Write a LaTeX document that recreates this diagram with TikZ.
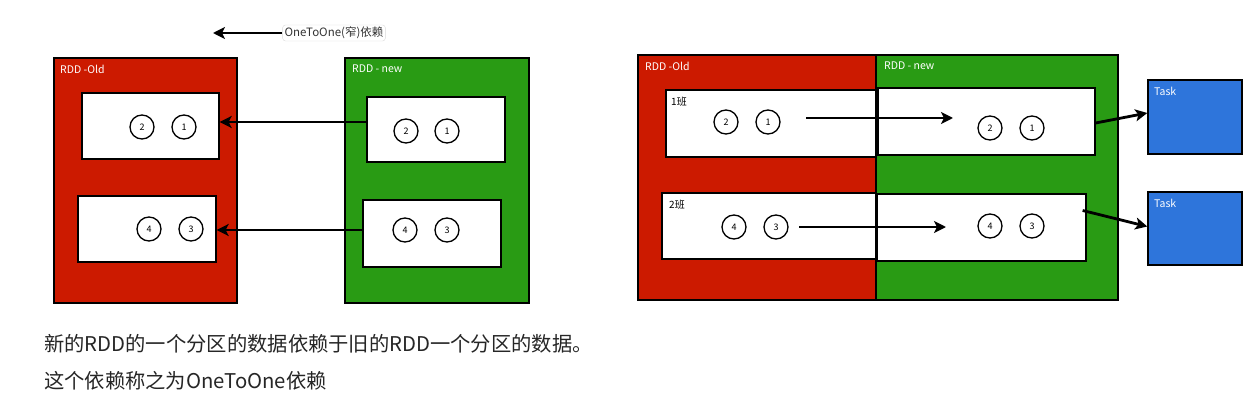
\documentclass[tikz,border=0pt]{standalone}
\usepackage{fontspec}
\setmainfont{Noto Sans CJK SC}
\usetikzlibrary{arrows.meta}

\definecolor{oldred}{RGB}{204,26,0}
\definecolor{newgreen}{RGB}{41,155,20}
\definecolor{taskblue}{RGB}{46,117,219}

\tikzset{
  rddbox/.style={draw=black, line width=1.4pt, inner sep=0pt},
  partbox/.style={draw=black, fill=white, line width=1.3pt, inner sep=0pt},
  numnode/.style={circle, draw=black, line width=1.3pt, minimum size=24pt, inner sep=0pt, font=\fontsize{9}{9}\selectfont},
  boxlabel/.style={anchor=west, text=white, inner sep=0pt, font=\fontsize{10.5}{10.5}\selectfont},
  partlabel/.style={anchor=west, inner sep=0pt, font=\fontsize{10}{10}\selectfont},
  deparrow/.style={line width=2.8pt, -{Stealth[length=12pt,width=12pt,inset=3pt]}},
  notetext/.style={anchor=west, inner sep=0pt, text=black!85, font=\fontsize{20.3}{20.3}\selectfont}
}

\begin{document}
\begin{tikzpicture}[x=1pt, y=-1pt]
\useasboundingbox (0,0) rectangle (1259,401);

% legend
\node[draw=black!15, rounded corners=3pt, text=black!80, inner sep=2pt, font=\fontsize{11.5}{11.5}\selectfont] (legend) at (334,33) {OneToOne(窄)依赖};
\coordinate (legendtip) at (213,33);
\draw[deparrow] (legend.west) -- (legendtip);

% left: rdd old / rdd new
\node[rddbox, fill=oldred, minimum width=183pt, minimum height=245pt] (lold) at (145.5,180.5) {};
\node[rddbox, fill=newgreen, minimum width=184pt, minimum height=245pt] (lnew) at (437,180.5) {};
\node[boxlabel] (loldlabel) at (60,69) {RDD -Old};
\node[boxlabel] (lnewlabel) at (352,69) {RDD - new};

\node[partbox, minimum width=137pt, minimum height=66pt] (lo1) at (150.5,126) {};
\node[partbox, minimum width=138pt, minimum height=66pt] (lo2) at (147,229) {};
\node[partbox, minimum width=138pt, minimum height=65pt] (ln1) at (436,129.5) {};
\node[partbox, minimum width=138pt, minimum height=67pt] (ln2) at (432,233.5) {};

\node[numnode] (lo1b) at (142,127) {2};
\node[numnode] (lo1a) at (184,127) {1};
\node[numnode] (lo2b) at (149,229) {4};
\node[numnode] (lo2a) at (191,229) {3};
\node[numnode] (ln1b) at (406,131) {2};
\node[numnode] (ln1a) at (447,131) {1};
\node[numnode] (ln2b) at (405,230) {4};
\node[numnode] (ln2a) at (447,230) {3};

\draw[deparrow] ([yshift=7.5pt]ln1.west) -- ([yshift=7.5pt]ln1.west -| lo1.east);
\draw[deparrow] ([yshift=3.5pt]ln2.west) -- ([yshift=3.5pt]ln2.west -| lo2.east);

% right: partitions to tasks
\node[rddbox, fill=oldred, minimum width=238pt, minimum height=245pt] (rold) at (757,177.5) {};
\node[rddbox, fill=newgreen, minimum width=242pt, minimum height=245pt] (rnew) at (997,177.5) {};
\node[boxlabel] (roldlabel) at (645,66) {RDD -Old};
\node[boxlabel] (rnewlabel) at (884,66) {RDD - new};

\node[partbox, minimum width=210pt, minimum height=67pt] (ro1) at (771,123.5) {};
\node[partbox, minimum width=217pt, minimum height=67pt] (rn1) at (986.5,121.5) {};
\node[partbox, minimum width=214pt, minimum height=66pt] (ro2) at (769,226) {};
\node[partbox, minimum width=209pt, minimum height=67pt] (rn2) at (981.5,227.5) {};
\node[partlabel] (ro1label) at (671,102) {1班};
\node[partlabel] (ro2label) at (669,205) {2班};

\node[numnode] (ro1b) at (726,122) {2};
\node[numnode] (ro1a) at (768,122) {1};
\node[numnode] (ro2b) at (734,227) {4};
\node[numnode] (ro2a) at (776,227) {3};
\node[numnode] (rn1b) at (990,128) {2};
\node[numnode] (rn1a) at (1032,128) {1};
\node[numnode] (rn2b) at (990,226) {4};
\node[numnode] (rn2a) at (1032,226) {3};

\coordinate (row1start) at (806,118);
\coordinate (row1end) at (953,118);
\coordinate (row2start) at (799,227);
\coordinate (row2end) at (946,227);
\draw[deparrow] (row1start) -- (row1end);
\draw[deparrow] (row2start) -- (row2end);

\node[rddbox, fill=taskblue, minimum width=94pt, minimum height=74pt] (task1) at (1195,117) {};
\node[rddbox, fill=taskblue, minimum width=94pt, minimum height=73pt] (task2) at (1195,228.5) {};
\node[boxlabel] (task1label) at (1154,91) {Task};
\node[boxlabel] (task2label) at (1154,203) {Task};

\draw[deparrow] ([yshift=-1.5pt]rn1.east) -- ([yshift=4pt]task1.west);
\draw[deparrow] ([xshift=-4pt,yshift=17pt]rn2.east) -- ([yshift=2pt]task2.west);

% note text
\node[notetext] (note1) at (44,344) {新的RDD的一个分区的数据依赖于旧的RDD一个分区的数据。};
\node[notetext] (note2) at (44,381) {这个依赖称之为OneToOne依赖};
\end{tikzpicture}
\end{document}
